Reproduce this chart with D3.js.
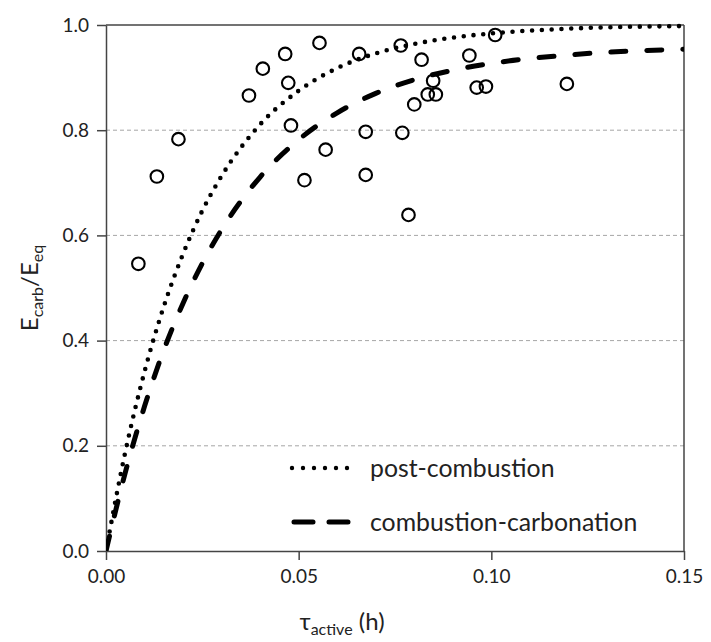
<!DOCTYPE html>
<html>
<head>
<meta charset="utf-8">
<script src="https://cdn.jsdelivr.net/npm/d3@7"></script>
<style>
  html, body { margin: 0; padding: 0; background: #fff; }
  svg { display: block; }
  text { font-family: Lato, "Open Sans", sans-serif; fill: #222; }
</style>
</head>
<body>
<svg id="chart" width="711" height="642"></svg>
<script>
// ---- data ----
const xTicks = [0, 0.05, 0.10, 0.15];
const xTickLabels = ["0.00", "0.05", "0.10", "0.15"];
const yTicks = [0, 0.2, 0.4, 0.6, 0.8, 1.0];
const yTickLabels = ["0.0", "0.2", "0.4", "0.6", "0.8", "1.0"];

// measured points: tau_active (h), Ecarb/Eeq
const obsTau = [0.0084, 0.0132, 0.0188, 0.0371, 0.0407, 0.0465, 0.0473, 0.0480, 0.0515,
  0.0554, 0.0570, 0.0657, 0.0674, 0.0674, 0.0765, 0.0769, 0.0785, 0.0800, 0.0819,
  0.0835, 0.0856, 0.0849, 0.0943, 0.0962, 0.0986, 0.1010, 0.1196];
const obsE = [0.546, 0.712, 0.783, 0.866, 0.917, 0.945, 0.890, 0.809, 0.705,
  0.966, 0.763, 0.945, 0.797, 0.715, 0.961, 0.795, 0.639, 0.849, 0.934,
  0.868, 0.868, 0.894, 0.942, 0.881, 0.883, 0.981, 0.888];

// model curves
const curveTau = [0, 0.005, 0.01, 0.015, 0.02, 0.025, 0.03, 0.04, 0.05, 0.06, 0.07, 0.08, 0.09, 0.10, 0.12, 0.15];
const postComb = [0, 0.188, 0.341, 0.465, 0.565, 0.647, 0.713, 0.811, 0.875, 0.918, 0.946, 0.964, 0.976, 0.984, 0.993, 0.998];
const combCarb = [0, 0.149, 0.275, 0.382, 0.471, 0.547, 0.611, 0.711, 0.782, 0.833, 0.870, 0.896, 0.914, 0.927, 0.943, 0.954];

const seriesNames = ["post-combustion", "combustion-carbonation"];

// ---- layout ----
const svg = d3.select("#chart");
const L = 106, R = 684, T = 25, B = 551;
const x = d3.scaleLinear().domain([0, 0.15]).range([L, R]);
const y = d3.scaleLinear().domain([0, 1]).range([B, T]);
const axisColor = "#444";

// gridlines
svg.append("g").selectAll("line")
  .data(yTicks.filter(v => v > 0 && v < 1))
  .join("line")
  .attr("x1", L).attr("x2", R)
  .attr("y1", d => y(d)).attr("y2", d => y(d))
  .attr("stroke", "#a6a6a6").attr("stroke-width", 1)
  .attr("stroke-dasharray", "4,3");

// frame (top & right)
svg.append("line").attr("x1", L).attr("x2", R).attr("y1", T).attr("y2", T)
  .attr("stroke", axisColor).attr("stroke-width", 1.5);
svg.append("line").attr("x1", R).attr("x2", R).attr("y1", T).attr("y2", B)
  .attr("stroke", axisColor).attr("stroke-width", 1.5);

// axes
const xAxis = d3.axisBottom(x).tickValues(xTicks)
  .tickFormat((d, i) => xTickLabels[i]).tickSizeOuter(0).tickSizeInner(9).tickPadding(10);
const gx = svg.append("g").attr("transform", `translate(0,${B})`).call(xAxis);
const yAxis = d3.axisLeft(y).tickValues(yTicks)
  .tickFormat((d, i) => yTickLabels[i]).tickSizeOuter(0).tickSizeInner(9).tickPadding(8);
const gy = svg.append("g").attr("transform", `translate(${L},0)`).call(yAxis);
[gx, gy].forEach(g => {
  g.select(".domain").attr("stroke", axisColor).attr("stroke-width", 1.5);
  g.selectAll(".tick line").attr("stroke", axisColor).attr("stroke-width", 1.5);
  g.selectAll(".tick text").attr("font-family", "Lato, sans-serif")
    .attr("font-size", 19).attr("fill", "#333");
});

// clip
svg.append("clipPath").attr("id", "clip").append("rect")
  .attr("x", L).attr("y", T - 3).attr("width", R - L).attr("height", B - T + 3);

const line = d3.line().x(d => x(d[0])).y(d => y(d[1])).curve(d3.curveMonotoneX);

svg.append("path")
  .datum(curveTau.map((t, i) => [t, postComb[i]]))
  .attr("d", line).attr("fill", "none")
  .attr("stroke", "#000").attr("stroke-width", 4.6)
  .attr("stroke-linecap", "round").attr("stroke-dasharray", "0,9.8")
  .attr("clip-path", "url(#clip)");

svg.append("path")
  .datum(curveTau.map((t, i) => [t, combCarb[i]]))
  .attr("d", line).attr("fill", "none")
  .attr("stroke", "#000").attr("stroke-width", 5)
  .attr("stroke-linecap", "round").attr("stroke-dasharray", "15,21")
  .attr("clip-path", "url(#clip)");

// points
svg.append("g").selectAll("circle")
  .data(obsTau.map((t, i) => [t, obsE[i]]))
  .join("circle")
  .attr("cx", d => x(d[0])).attr("cy", d => y(d[1]))
  .attr("r", 6.3).attr("fill", "#fff").attr("fill-opacity", 0)
  .attr("stroke", "#000").attr("stroke-width", 2.1);

// legend
const leg = svg.append("g");
const legY = [468, 522];
leg.append("line").attr("x1", 292).attr("x2", 358).attr("y1", legY[0]).attr("y2", legY[0])
  .attr("stroke", "#000").attr("stroke-width", 4.4).attr("stroke-linecap", "round")
  .attr("stroke-dasharray", "0,11");
leg.append("line").attr("x1", 294).attr("x2", 350).attr("y1", legY[1]).attr("y2", legY[1])
  .attr("stroke", "#000").attr("stroke-width", 5).attr("stroke-linecap", "round")
  .attr("stroke-dasharray", "19,16");
leg.selectAll("text").data(seriesNames).join("text")
  .attr("x", 370).attr("y", (d, i) => legY[i])
  .attr("dy", "0.35em").attr("font-size", 24.8).attr("fill", "#222").text(d => d);

// axis titles
const xt = svg.append("text").attr("x", 342).attr("y", 630)
  .attr("text-anchor", "middle").attr("font-size", 24).attr("fill", "#222");
xt.append("tspan").text("τ");
xt.append("tspan").attr("font-size", 16).attr("dy", 5).text("active");
xt.append("tspan").attr("dy", -5).text(" (h)");

const yt = svg.append("text").attr("transform", `translate(38,${(T + B) / 2}) rotate(-90)`)
  .attr("text-anchor", "middle").attr("font-size", 24).attr("fill", "#222");
yt.append("tspan").text("E");
yt.append("tspan").attr("font-size", 16).attr("dy", 5).text("carb");
yt.append("tspan").attr("dy", -5).text("/E");
yt.append("tspan").attr("font-size", 16).attr("dy", 5).text("eq");
</script>
</body>
</html>
